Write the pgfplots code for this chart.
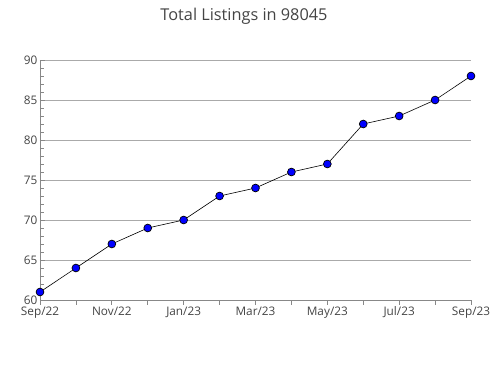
\documentclass[border=0pt]{standalone}
\usepackage{pgfplots}
\pgfplotsset{compat=1.18}
\usepackage{fontspec}
\setmainfont{Open Sans}
\definecolor{axgray}{HTML}{888888}
\definecolor{gridgray}{HTML}{AAAAAA}
\definecolor{txtgray}{HTML}{444444}
\begin{document}
\begin{tikzpicture}[x=1pt,y=1pt]
\useasboundingbox (-40pt,-80pt) rectangle (450pt,300pt);
\begin{axis}[
  at={(0,0)}, anchor=south west,
  scale only axis, width=431pt, height=240pt,
  xmin=0, xmax=12, ymin=60, ymax=90,
  axis lines*=left,
  axis line style={axgray, line width=0.8pt},
  xtick={0,...,12},
  xticklabels={Sep/22,,Nov/22,,Jan/23,,Mar/23,,May/23,,Jul/23,,Sep/23},
  ytick={60,65,...,90},
  minor y tick num=4,
  ymajorgrids, grid style={gridgray, line width=0.8pt},
  x tick style={axgray, line width=0.8pt}, y tick style={axgray, line width=0.8pt},
  xtick align=outside, ytick align=inside,
  major tick length=5pt, minor tick length=4pt,
  tick label style={font=\fontsize{11.8}{13}\selectfont, text=txtgray},
  /pgf/number format/assume math mode=true,
  xticklabel style={yshift=2pt},
  yticklabel style={xshift=1pt},
  clip=false,
]
\addplot[black, line width=0.6pt, mark=*, mark size=3.9pt,
  mark options={fill=blue, draw=black, line width=0.7pt}]
  coordinates {(0,61) (1,64) (2,67) (3,69) (4,70) (5,73) (6,74) (7,76) (8,77) (9,82) (10,83) (11,85) (12,88)};
\end{axis}
\node[text=txtgray, font=\fontsize{16.3}{18}\selectfont] at (204pt,284pt) {Total Listings in 98045};
\end{tikzpicture}
\end{document}
